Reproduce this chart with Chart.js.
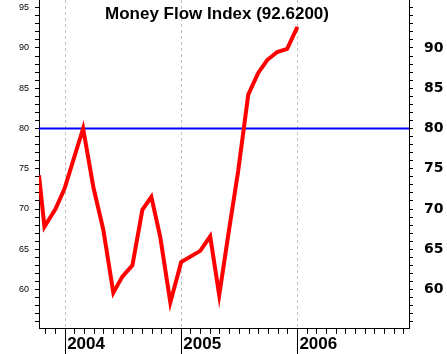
<!DOCTYPE html>
<html>
<head>
<meta charset="utf-8">
<script src="https://cdn.jsdelivr.net/npm/chart.js@4.4.1/dist/chart.umd.min.js"></script>
<style>
  html, body { margin: 0; padding: 0; background: #fff; }
  canvas { display: block; }
</style>
</head>
<body>
<canvas id="mfi" width="447" height="354"></canvas>
<script>
// months counted from Jan 2004 (0 = 2004, 12 = 2005, 24 = 2006)
const mfiMonths = [-2.70, -2.14, -1.0, -0.07, 1.86, 2.92, 3.95, 4.98, 5.91, 6.95, 7.98, 8.91, 9.83, 10.87, 11.99, 13.96, 14.99, 15.92, 16.96, 17.89, 18.92, 19.95, 20.88, 21.91, 22.94, 24.0]
const mfiValues = [74.2, 67.8, 70.0, 72.5, 80.0, 72.7, 67.4, 59.6, 61.6, 63.0, 69.9, 71.5, 66.5, 58.4, 63.4, 64.8, 66.6, 59.3, 67.6, 74.8, 84.2, 86.9, 88.5, 89.5, 89.9, 92.62]
const overboughtLevel = 80

const yearMonths = [0, 12, 24]
const yearLabels = ['2004', '2005', '2006']
const leftLabels = [60, 65, 70, 75, 80, 85, 90, 95]
const rightLabels = [60, 65, 70, 75, 80, 85, 90]

const xMin = -2.7
const xMax = 35.53
const yMin = 55.22
const yMax = 95.96

const monthTicks = []
for (let m = Math.ceil(xMin); m <= Math.floor(xMax); m++) monthTicks.push(m)
const unitTicks = []
for (let v = Math.ceil(yMin); v <= Math.floor(yMax); v++) unitTicks.push(v)

const arial = 'Liberation Sans, Arial, sans-serif'
const titleText = `Money Flow Index (${mfiValues[mfiValues.length - 1].toFixed(4)})`

const titlePlugin = {
  id: 'mfiTitle',
  afterDraw(chart) {
    const { ctx, chartArea } = chart
    ctx.save()
    ctx.font = `bold 17px ${arial}`
    ctx.fillStyle = '#000'
    ctx.textAlign = 'center'
    ctx.textBaseline = 'alphabetic'
    ctx.fillText(titleText, (chartArea.left + chartArea.right) / 2 - 7, 18.5)
    ctx.restore()
  },
}

const noPad = s => {
  s.paddingTop = 0
  s.paddingBottom = 0
  s.paddingLeft = 0
  s.paddingRight = 0
}

new Chart(document.getElementById('mfi'), {
  type: 'line',
  data: {
    datasets: [
      {
        label: 'MFI',
        data: mfiMonths.map((m, i) => ({ x: m, y: mfiValues[i] })),
        borderColor: '#ff0000',
        borderWidth: 4,
        pointRadius: 0,
        tension: 0,
        xAxisID: 'x',
        yAxisID: 'y',
      },
      {
        label: 'Overbought',
        data: [{ x: xMin, y: overboughtLevel }, { x: xMax, y: overboughtLevel }],
        borderColor: '#0000ff',
        borderWidth: 2,
        pointRadius: 0,
        xAxisID: 'x',
        yAxisID: 'y',
      },
    ],
  },
  options: {
    responsive: false,
    animation: false,
    devicePixelRatio: 1,
    layout: { padding: 0 },
    plugins: {
      legend: { display: false },
      tooltip: { enabled: false },
    },
    scales: {
      x: {
        type: 'linear',
        position: 'bottom',
        min: xMin,
        max: xMax,
        afterBuildTicks: s => { s.ticks = yearMonths.map(v => ({ value: v })) },
        afterFit: s => { s.height = 26; noPad(s) },
        grid: { color: '#c0c0c0', tickColor: '#000', tickLength: 26 },
        border: { color: '#000', dash: [3, 3] },
        ticks: {
          callback: (v, i) => yearLabels[i],
          align: 'start',
          labelOffset: 2,
          padding: -20,
          autoSkip: false,
          maxRotation: 0,
          color: '#000',
          font: { family: arial, size: 17, weight: 'bold' },
        },
      },
      xm: {
        type: 'linear',
        position: { y: yMin },
        min: xMin,
        max: xMax,
        afterBuildTicks: s => { s.ticks = monthTicks.map(v => ({ value: v })) },
        afterFit: noPad,
        grid: { drawOnChartArea: false, color: '#000', tickLength: 6 },
        border: { display: false },
        ticks: { display: false, autoSkip: false },
      },
      y: {
        position: 'left',
        min: yMin,
        max: yMax,
        afterBuildTicks: s => { s.ticks = unitTicks.map(v => ({ value: v })) },
        afterFit: s => { s.width = 39; noPad(s) },
        grid: { drawOnChartArea: false, color: '#000', tickLength: 4 },
        border: { color: '#000' },
        ticks: {
          callback: v => (leftLabels.includes(v) ? String(v) : ''),
          autoSkip: false,
          padding: 6,
          color: '#000',
          font: { family: arial, size: 9 },
        },
      },
      y2: {
        position: 'right',
        min: yMin,
        max: yMax,
        afterBuildTicks: s => { s.ticks = unitTicks.map(v => ({ value: v })) },
        afterFit: s => { s.width = 38; noPad(s) },
        grid: { drawOnChartArea: false, color: '#000', tickLength: 4 },
        border: { color: '#000' },
        ticks: {
          callback: v => (rightLabels.includes(v) ? String(v) : ''),
          autoSkip: false,
          padding: 11,
          color: '#000',
          font: { family: 'DejaVu Sans', size: 14, weight: 'bold' },
        },
      },
    },
  },
  plugins: [titlePlugin],
})
</script>
</body>
</html>
